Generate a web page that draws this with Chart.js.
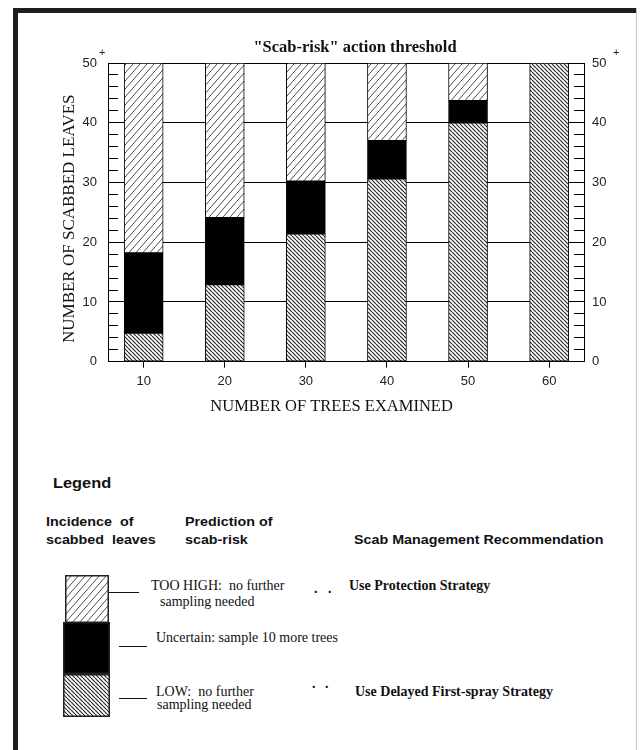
<!DOCTYPE html>
<html><head><meta charset="utf-8">
<script src="https://cdn.jsdelivr.net/npm/chart.js@4.4.1/dist/chart.umd.min.js"></script>
<style>
html,body{margin:0;padding:0;background:#fff;}
body{width:640px;height:750px;position:relative;overflow:hidden;}
#wrap{position:absolute;left:0;top:0;width:640px;height:430px;}
.abs{position:absolute;white-space:nowrap;}
.sans{font-family:"Liberation Sans",Arial,sans-serif;font-weight:bold;color:#111;font-size:13px;line-height:18px;transform:scaleX(1.1);transform-origin:0 0;}
.serif{font-family:"Liberation Serif","Times New Roman",serif;font-size:14px;line-height:16px;color:#111;}
.b{font-weight:bold;}
.rule{position:absolute;height:0;border-top:1px solid #111;}
.frame{position:absolute;background:#1e1e1e;}
canvas.sw{position:absolute;}
</style></head><body>
<div class="frame" style="left:13px;top:8px;width:5px;height:742px;"></div>
<div class="frame" style="left:13px;top:8px;width:624px;height:5px;"></div>
<div class="frame" style="left:636px;top:8px;width:1px;height:742px;background:#c8c8c8;"></div>
<div id="wrap"><canvas id="c"></canvas></div>

<div class="abs sans" style="left:53px;top:475px;font-size:14px;line-height:17px;transform:scaleX(1.17);">Legend</div>
<div class="abs sans" style="left:46px;top:513px;">Incidence&nbsp; of<br>scabbed&nbsp; leaves</div>
<div class="abs sans" style="left:185px;top:513px;">Prediction of<br>scab-risk</div>
<div class="abs sans" style="left:354px;top:531px;">Scab Management Recommendation</div>

<canvas class="sw" id="swHigh" width="44" height="48" style="left:65px;top:575px;"></canvas>
<canvas class="sw" id="swUnc" width="47" height="52" style="left:63px;top:622px;"></canvas>
<canvas class="sw" id="swLow" width="47" height="43" style="left:63px;top:674px;"></canvas>

<div class="rule" style="left:109px;top:592px;width:30px;"></div>
<div class="rule" style="left:119px;top:646px;width:28px;"></div>
<div class="rule" style="left:119px;top:698px;width:28px;"></div>

<div class="abs serif" style="left:151px;top:578px;">TOO HIGH:&nbsp; no further</div>
<div class="abs serif" style="left:160px;top:594px;">sampling needed</div>
<div class="abs serif b" style="left:314px;top:581px;">.</div>
<div class="abs serif b" style="left:328px;top:581px;">.</div>
<div class="abs serif b" style="left:349px;top:578px;">Use Protection Strategy</div>
<div class="abs serif" style="left:156px;top:630px;">Uncertain: sample 10 more trees</div>
<div class="abs serif" style="left:156px;top:684px;">LOW:&nbsp; no further</div>
<div class="abs serif" style="left:157px;top:697px;">sampling needed</div>
<div class="abs serif b" style="left:312px;top:676px;">.</div>
<div class="abs serif b" style="left:325px;top:676px;">.</div>
<div class="abs serif b" style="left:355px;top:684px;">Use Delayed First-spray Strategy</div>

<script>
// ---- data ----
const trees = [10, 20, 30, 40, 50, 60];
const lowUpper = [4.8, 12.9, 21.4, 30.6, 40, 50];            // top of "LOW" zone
const uncertainUpper = [18.2, 24.1, 30.2, 37.0, 43.7, null]; // top of "Uncertain" zone
const yTickLabels = [0, 10, 20, 30, 40, 50];
const xTickLabels = [10, 20, 30, 40, 50, 60];
const yMin = 0, yMax = 50;
const chartTitle = '"Scab-risk" action threshold';
const xTitle = 'NUMBER OF TREES EXAMINED';
const yTitle = 'NUMBER OF SCABBED LEAVES';

// ---- patterns ----
function makePattern(kind) {
  const c = document.createElement('canvas');
  const g = c.getContext('2d');
  if (kind === 'high') {
    const w = 7, h = 8;
    c.width = w; c.height = h;
    g.fillStyle = '#fff'; g.fillRect(0, 0, w, h);
    g.strokeStyle = '#3a3a3a'; g.lineWidth = 0.9;
    g.beginPath();
    for (const o of [-w, 0, w]) { g.moveTo(o, h); g.lineTo(o + w, 0); }
    g.stroke();
  } else {
    const w = 4, h = 4;
    c.width = w; c.height = h;
    g.fillStyle = '#fff'; g.fillRect(0, 0, w, h);
    g.strokeStyle = '#2a2a2a'; g.lineWidth = 1.2;
    g.beginPath();
    for (const o of [-w, 0, w]) { g.moveTo(o, 0); g.lineTo(o + w, h); }
    g.stroke();
  }
  return c;
}
const ctxMain = document.getElementById('c').getContext('2d');
const highPat = ctxMain.createPattern(makePattern('high'), 'repeat');
const lowPat = ctxMain.createPattern(makePattern('low'), 'repeat');

// ---- bar ranges built from the arrays ----
const lowData = trees.map((t, i) => ({x: t, y: [yMin, lowUpper[i]]}));
const uncData = trees.map((t, i) => uncertainUpper[i] == null ? null : ({x: t, y: [lowUpper[i], uncertainUpper[i]]})).filter(d => d);
const highData = trees.map((t, i) => uncertainUpper[i] == null ? null : ({x: t, y: [uncertainUpper[i], yMax]})).filter(d => d);

const tickFont = {family: '"Liberation Sans", Arial, sans-serif', size: 13};
const serifFam = '"Liberation Serif", "Times New Roman", serif';
const plusPlugin = {
  id: 'plus',
  afterDraw(chart) {
    const c = chart.ctx, a = chart.chartArea;
    const y = chart.scales.y.getPixelForValue(yMax) - 10;
    c.save();
    c.font = '11px "Liberation Sans", Arial, sans-serif';
    c.fillStyle = '#222'; c.textBaseline = 'middle'; c.textAlign = 'left';
    c.fillText('+', a.left - 9, y);
    c.fillText('+', a.right + 29, y);
    c.restore();
  }
};

new Chart(ctxMain, {
  type: 'bar',
  data: {
    datasets: [
      {label: 'LOW', data: lowData, backgroundColor: lowPat},
      {label: 'Uncertain', data: uncData, backgroundColor: '#000'},
      {label: 'TOO HIGH', data: highData, backgroundColor: highPat}
    ]
  },
  options: {
    responsive: true, maintainAspectRatio: false, animation: false, devicePixelRatio: 1,
    layout: {padding: {left: 0, right: -70, top: 0, bottom: 0}},
    datasets: {bar: {grouped: false, barThickness: 39, borderColor: '#000', borderWidth: 1, borderSkipped: false}},
    plugins: {
      legend: {display: false}, tooltip: {enabled: false},
      title: {display: true, text: chartTitle, color: '#111',
        font: {family: serifFam, size: 16.5, weight: 'bold'},
        padding: {top: 38.1, bottom: 5.1}}
    },
    scales: {
      x: {
        type: 'linear', min: 5.6, max: 64.3, offset: false,
        afterBuildTicks: s => { s.ticks = xTickLabels.map(v => ({value: v})); },
        afterFit: s => { s.height = 68.3; },
        grid: {offset: false, drawOnChartArea: false, drawTicks: true, tickLength: 6, color: '#000', tickColor: '#000'},
        border: {display: true, color: '#000', width: 1},
        ticks: {font: tickFont, color: '#222', padding: 6, maxRotation: 0, autoSkip: false},
        title: {display: true, text: xTitle + '       ', color: '#111',
          font: {family: serifFam, size: 16.5},
          padding: {top: 0, bottom: 13.4}}
      },
      y: {
        position: 'left', min: yMin, max: yMax,
        afterFit: s => { s.width = 108; },
        grid: {drawOnChartArea: true, drawTicks: true, tickLength: -10, tickColor: '#000', lineWidth: 1,
          color: c => (c.tick && c.tick.value % 10 === 0 && c.tick.value > 0) ? '#000' : 'rgba(0,0,0,0)'},
        border: {display: true, color: '#000', width: 1},
        ticks: {stepSize: 2, autoSkip: false, font: tickFont, color: '#222', padding: 21,
          callback: v => yTickLabels.includes(v) ? String(v) : ''},
        title: {display: true, text: yTitle + '   ', color: '#111',
          font: {family: serifFam, size: 17},
          padding: {top: 59.8, bottom: 0}}
      },
      y2: {
        position: 'right', min: yMin, max: yMax,
        afterFit: s => { s.width = 126; },
        grid: {drawOnChartArea: false, drawTicks: true, tickLength: -10, tickColor: '#000', color: '#000'},
        border: {display: true, color: '#000', width: 1},
        ticks: {stepSize: 2, autoSkip: false, font: tickFont, color: '#222', padding: 18,
          callback: v => yTickLabels.includes(v) ? String(v) : ''}
      }
    }
  },
  plugins: [plusPlugin]
});

// ---- legend swatches ----
function swatch(id, fill) {
  const cv = document.getElementById(id), g = cv.getContext('2d');
  g.fillStyle = fill === 'black' ? '#000' : g.createPattern(makePattern(fill), 'repeat');
  g.fillRect(0, 0, cv.width, cv.height);
  g.strokeStyle = '#222'; g.lineWidth = 1.5;
  g.strokeRect(0.75, 0.75, cv.width - 1.5, cv.height - 1.5);
}
swatch('swHigh', 'high');
swatch('swUnc', 'black');
swatch('swLow', 'low');
</script>
</body></html>
